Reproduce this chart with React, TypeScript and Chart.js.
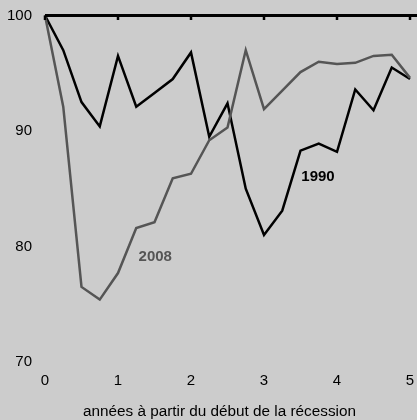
import React, { useEffect, useRef } from "react";
import { Chart, registerables } from "chart.js";

Chart.register(...registerables);

const quarters = [0, 0.25, 0.5, 0.75, 1, 1.25, 1.5, 1.75, 2, 2.25, 2.5, 2.75, 3, 3.25, 3.5, 3.75, 4, 4.25, 4.5, 4.75, 5];
const series1990 = [100, 97.0, 92.5, 90.4, 96.5, 92.1, 93.3, 94.5, 96.8, 89.5, 92.4, 85.0, 81.0, 83.1, 88.3, 88.9, 88.2, 93.6, 91.8, 95.5, 94.5];
const series2008 = [100, 92.1, 76.5, 75.4, 77.7, 81.6, 82.1, 85.9, 86.3, 89.2, 90.3, 97.0, 91.9, 93.5, 95.1, 96.0, 95.8, 95.9, 96.5, 96.6, 94.6];
const xTicks = [0, 1, 2, 3, 4, 5];
const yTicks = [70, 80, 90, 100];
const xTitle = "années à partir du début de la récession";
const seriesLabels = [
  { text: "1990", x: 3.74, y: 86.0, color: "#000000" },
  { text: "2008", x: 1.51, y: 79.1, color: "#555555" },
];

const FONT = "'Liberation Sans', Arial, Helvetica, sans-serif";
const BG = "#cccccc";

const decorPlugin = {
  id: "decor",
  beforeDraw(chart: any) {
    const { ctx, width, height } = chart;
    ctx.save();
    ctx.fillStyle = BG;
    ctx.fillRect(0, 0, width, height);
    ctx.restore();
  },
  afterDatasetsDraw(chart: any) {
    const { ctx, chartArea, width, height } = chart;
    const xs = chart.scales.x;
    const ys = chart.scales.y;
    const y100 = ys.getPixelForValue(100);
    ctx.save();
    ctx.strokeStyle = "#000000";
    ctx.lineWidth = 3;
    ctx.beginPath();
    ctx.moveTo(chartArea.left, y100);
    ctx.lineTo(width, y100);
    ctx.stroke();
    ctx.lineWidth = 2.5;
    xTicks.forEach((t) => {
      const px = xs.getPixelForValue(t);
      ctx.beginPath();
      ctx.moveTo(px, y100);
      ctx.lineTo(px, y100 + 4.5);
      ctx.stroke();
    });
    ctx.font = `bold 15px ${FONT}`;
    ctx.textAlign = "center";
    ctx.textBaseline = "middle";
    seriesLabels.forEach((l) => {
      ctx.fillStyle = l.color;
      ctx.fillText(l.text, xs.getPixelForValue(l.x), ys.getPixelForValue(l.y));
    });
    ctx.font = `15.3px ${FONT}`;
    ctx.fillStyle = "#000000";
    ctx.fillText(xTitle, (chartArea.left + chartArea.right) / 2 - 8, height - 8.5);
    ctx.restore();
  },
};

export default function App() {
  const ref = useRef<HTMLCanvasElement | null>(null);
  useEffect(() => {
    document.body.style.margin = "0";
    document.body.style.background = BG;
    if (!ref.current) return;
    const chart = new Chart(ref.current, {
      type: "line",
      data: {
        datasets: [
          {
            label: "2008",
            data: quarters.map((q, i) => ({ x: q, y: series2008[i] })),
            borderColor: "#555555",
            borderWidth: 2.5,
            pointRadius: 0,
            tension: 0,
            clip: false as any,
          },
          {
            label: "1990",
            data: quarters.map((q, i) => ({ x: q, y: series1990[i] })),
            borderColor: "#000000",
            borderWidth: 2.5,
            pointRadius: 0,
            tension: 0,
            clip: false as any,
          },
        ],
      },
      options: {
        animation: false,
        responsive: false,
        events: [],
        layout: { padding: { top: 15.5, right: 7, left: 0, bottom: 0 } },
        plugins: { legend: { display: false }, tooltip: { enabled: false } },
        scales: {
          x: {
            type: "linear",
            min: 0,
            max: 5,
            afterBuildTicks: (s: any) => {
              s.ticks = xTicks.map((v) => ({ value: v }));
            },
            afterFit: (s: any) => {
              s.height = 58;
              s.paddingLeft = 0;
              s.paddingRight = 0;
            },
            grid: { display: false, drawTicks: false },
            border: { display: false },
            ticks: { color: "#000", font: { family: FONT, size: 15 }, padding: 10, maxRotation: 0 },
          },
          y: {
            type: "linear",
            min: 70,
            max: 100,
            afterBuildTicks: (s: any) => {
              s.ticks = yTicks.map((v) => ({ value: v }));
            },
            afterFit: (s: any) => {
              s.width = 45;
              s.paddingTop = 0;
              s.paddingBottom = 0;
            },
            grid: { display: false, drawTicks: false },
            border: { display: false },
            ticks: { color: "#000", font: { family: FONT, size: 15 }, padding: 13 },
          },
        },
      },
      plugins: [decorPlugin],
    });
    return () => chart.destroy();
  }, []);
  return <canvas ref={ref} width={417} height={420} style={{ display: "block" }} />;
}
